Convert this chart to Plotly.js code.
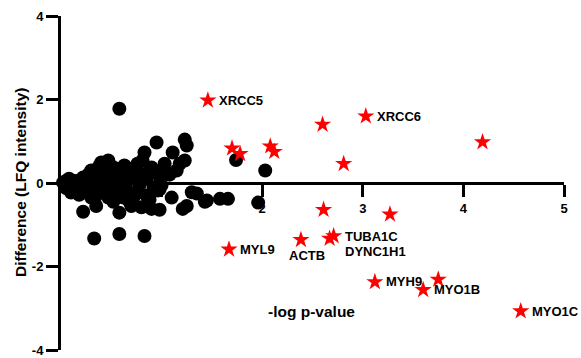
<!DOCTYPE html>
<html>
<head>
<meta charset="utf-8">
<script src="https://cdn.plot.ly/plotly-3.0.1.min.js"></script>
<style>html,body{margin:0;padding:0;background:#fff;}#chart{width:581px;height:358px;}</style>
</head>
<body>
<div id="chart"></div>
<script>
// Non-significant proteins (black dots)
const nsX = [0.02,0.05,0.08,0.10,0.12,0.15,0.18,0.20,0.22,0.25,0.27,0.30,0.32,0.33,0.35,0.37,0.40,0.40,0.42,0.45,
  0.47,0.47,0.48,0.50,0.52,0.55,0.57,0.60,0.62,0.63,0.65,0.67,0.70,0.72,0.74,0.76,0.78,0.80,0.81,0.83,
  0.85,0.88,0.90,0.92,0.95,0.96,0.98,1.00,1.03,1.05,1.08,1.11,1.10,1.15,1.18,1.23,1.23,1.25,1.30,1.21,
  1.43,1.58,1.66,1.96,1.74,2.03,0.58,0.22,0.35,0.58,0.80,0.98,0.33,0.58,0.83,0.65,0.30,0.10,0.15,0.28,
  0.45,0.55,0.68,0.75,0.88,1.00,1.25,1.35,0.98,0.12,0.05,0.18,0.38,0.62,0.70,0.85,1.45,0.52,0.42,0.90,
  0.25,0.60];
const nsY = [0.01,0.05,0.10,-0.05,-0.18,0.02,-0.10,0.08,0.13,-0.05,0.20,0.30,-0.15,0.10,-0.30,0.22,0.49,0.05,-0.20,0.30,
  0.54,-0.35,0.15,-0.05,0.38,0.20,-0.20,0.35,0.05,0.42,-0.15,0.25,0.10,-0.35,0.30,0.46,-0.05,0.20,0.54,0.73,
  0.10,0.30,0.37,-0.10,0.97,-0.18,0.15,0.30,0.46,0.25,0.20,0.73,-0.35,0.30,0.46,0.54,1.04,0.90,-0.22,-0.62,
  -0.45,-0.38,-0.38,-0.47,0.55,0.30,1.78,-0.69,-0.55,-0.71,-0.58,-0.64,-1.33,-1.22,-1.27,0.37,-0.35,-0.23,0.05,-0.22,
  -0.10,-0.30,-0.45,-0.25,-0.40,-0.05,-0.55,-0.25,-0.15,0.05,-0.12,-0.28,0.40,-0.35,-0.55,-0.30,-0.42,-0.45,-0.05,-0.62,
  0.02,-0.10];

// Significant proteins (red stars)
const sigX = [1.46,1.70,1.78,2.08,2.12,2.60,3.03,2.81,4.19,2.61,3.27,1.67,2.385,2.67,2.71,3.12,3.60,3.75,4.57];
const sigY = [1.98,0.83,0.70,0.88,0.75,1.40,1.60,0.46,0.98,-0.64,-0.75,-1.59,-1.36,-1.33,-1.27,-2.37,-2.56,-2.31,-3.07];
const sigNames = ["XRCC5","","","","","","XRCC6","","","","","MYL9","ACTB","DYNC1H1","TUBA1C","MYH9","MYO1B","","MYO1C"];

const xTicks = [1,2,3,4,5];
const yTicks = [-4,-2,0,2,4];

// label placement styles (pixel offsets)
const labelStyle = {
  "ACTB": {xanchor:"center", xshift:6, yshift:-16},
  "DYNC1H1": {xanchor:"left", xshift:13, yshift:-13}
};

const FONT = "Arial, 'Liberation Sans', sans-serif";

const traces = [
  {x: nsX, y: nsY, type: "scatter", mode: "markers", cliponaxis:false,
   marker: {color: "#000", size: 14, line: {width: 0}}, hoverinfo: "none"},
  {x: sigX, y: sigY, type: "scatter", mode: "markers", cliponaxis:false,
   marker: {color: "#ff0000", symbol: "star", size: 13, line: {width: 0}}, hoverinfo: "none"}
];

const annotations = [];
sigNames.forEach((n, i) => {
  if (!n) return;
  const s = labelStyle[n] || {xanchor:"left", xshift:9, yshift:0};
  annotations.push({x: sigX[i], y: sigY[i], xref:"x", yref:"y", text: n, showarrow:false,
    xanchor: s.xanchor, yanchor:"middle", xshift: s.xshift, yshift: s.yshift,
    font: {family: FONT, size: 13, color: "#000", weight: "bold"}});
});
annotations.push({x: 2.49, y: -3.07, xref:"x", yref:"y", text:"-log p-value", showarrow:false,
  xanchor:"center", yanchor:"middle", font:{family: FONT, size: 15.5, color:"#000", weight:"bold"}});
annotations.push({x: -41/503, y: 0.5, xref:"paper", yref:"paper", text:"Difference (LFQ intensity)", showarrow:false,
  textangle:-90, xanchor:"center", yanchor:"middle", font:{family: FONT, size: 15.5, color:"#000", weight:"bold"}});

const layout = {
  width: 581, height: 358,
  margin: {l: 61, r: 17, t: 16, b: 8, pad: 0},
  paper_bgcolor: "#fff", plot_bgcolor: "#fff",
  showlegend: false,
  font: {family: FONT, color: "#000"},
  xaxis: {range: [0, 5], anchor: "free", position: 0.5, showgrid: false, zeroline: false,
    showline: true, linecolor: "#000", linewidth: 3, ticks: "outside", ticklen: 12, tickwidth: 3, tickcolor: "#000",
    tickvals: xTicks, ticktext: xTicks.map(String), layer: "below traces",
    tickfont: {family: FONT, size: 13, color: "#000", weight: "bold"}},
  yaxis: {range: [-4, 4], showgrid: false, zeroline: false,
    showline: true, linecolor: "#000", linewidth: 3, ticks: "outside", ticklen: 12, tickwidth: 3, tickcolor: "#000",
    tickvals: yTicks, ticktext: yTicks.map(String), layer: "below traces",
    tickfont: {family: FONT, size: 13, color: "#000", weight: "bold"}},
  annotations: annotations
};

Plotly.newPlot("chart", traces, layout, {staticPlot: true, displayModeBar: false});
</script>
</body>
</html>
